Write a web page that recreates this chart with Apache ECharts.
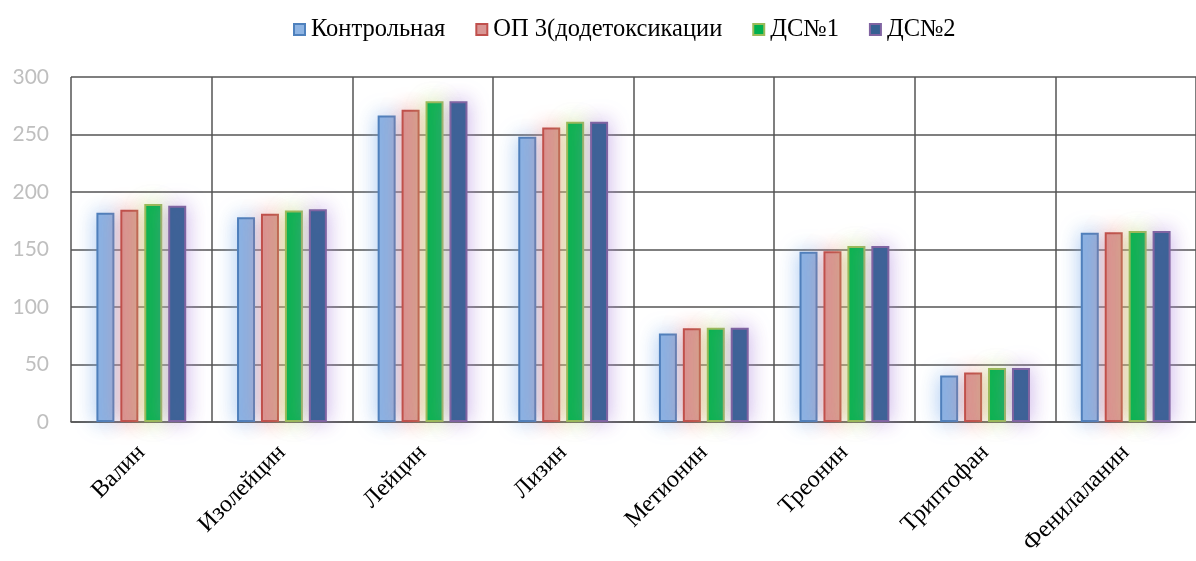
<!DOCTYPE html>
<html>
<head>
<meta charset="utf-8">
<script src="https://cdn.jsdelivr.net/npm/echarts@6/dist/echarts.min.js"></script>
<style>
  html, body { margin: 0; padding: 0; background: #fff; }
  #chart { width: 1196px; height: 561px; }
</style>
</head>
<body>
<div id="chart"></div>
<script>
// Amino acid content by group
const categories = ['Валин', 'Изолейцин', 'Лейцин', 'Лизин', 'Метионин', 'Треонин', 'Триптофан', 'Фенилаланин'];
const seriesNames = ['Контрольная', 'ОП 3(додетоксикации', 'ДС№1', 'ДС№2'];
const control   = [182, 178, 266.5, 248, 77, 148, 40.5, 164.5];
const op3       = [184.5, 181, 271.5, 256, 81.5, 148.5, 43, 165];
const ds1       = [189.5, 184, 279, 261, 82, 153, 47, 166];
const ds2       = [188, 185, 279, 261, 82, 153, 47, 166];
const yTicks    = { min: 0, max: 300, step: 50 };

const styles = [
  { fill: '#8EB4E3', border: '#4F81BD', glow: 'rgba(120,170,235,0.65)' },
  { fill: '#D99694', border: '#C0504D', glow: 'rgba(240,130,130,0.65)' },
  { fill: '#00B050', border: '#9BBB59', glow: 'rgba(190,225,120,0.7)' },
  { fill: '#366092', border: '#8064A2', glow: 'rgba(170,130,220,0.65)' }
];
const values = [control, op3, ds1, ds2];

const gridColor = '#555555';

const chart = echarts.init(document.getElementById('chart'));
chart.setOption({
  animation: false,
  legend: {
    top: 12,
    left: 288,
    itemWidth: 11,
    itemHeight: 11,
    itemGap: 30,
    icon: 'rect',
    textStyle: { fontFamily: 'Liberation Serif', fontSize: 24.5, color: '#000', padding: [0, 0, 0, 1] },
    data: seriesNames
  },
  grid: { left: 71, right: -7, top: 77, bottom: 139 },
  xAxis: {
    type: 'category',
    data: categories,
    boundaryGap: true,
    axisLine: { show: true, lineStyle: { color: gridColor, width: 1.5 } },
    axisTick: { show: false },
    splitLine: { show: true, lineStyle: { color: gridColor, width: 1.5 } },
    axisLabel: {
      rotate: 45,
      margin: 27,
      interval: 0,
      fontFamily: 'Liberation Serif',
      fontSize: 24,
      color: '#000'
    }
  },
  yAxis: {
    type: 'value',
    min: yTicks.min,
    max: yTicks.max,
    interval: yTicks.step,
    axisLine: { show: false },
    axisTick: { show: false },
    splitLine: { show: true, lineStyle: { color: gridColor, width: 1.5 } },
    axisLabel: { margin: 22, fontFamily: 'Lato', fontSize: 21, color: '#BFBFBF' }
  },
  series: seriesNames.map((name, i) => ({
    name: name,
    type: 'bar',
    data: values[i],
    barWidth: 18,
    barGap: '33%',
    itemStyle: {
      color: styles[i].fill,
      borderColor: styles[i].border,
      borderWidth: 2,
      shadowBlur: 20,
      shadowColor: styles[i].glow
    }
  }))
});
</script>
</body>
</html>
